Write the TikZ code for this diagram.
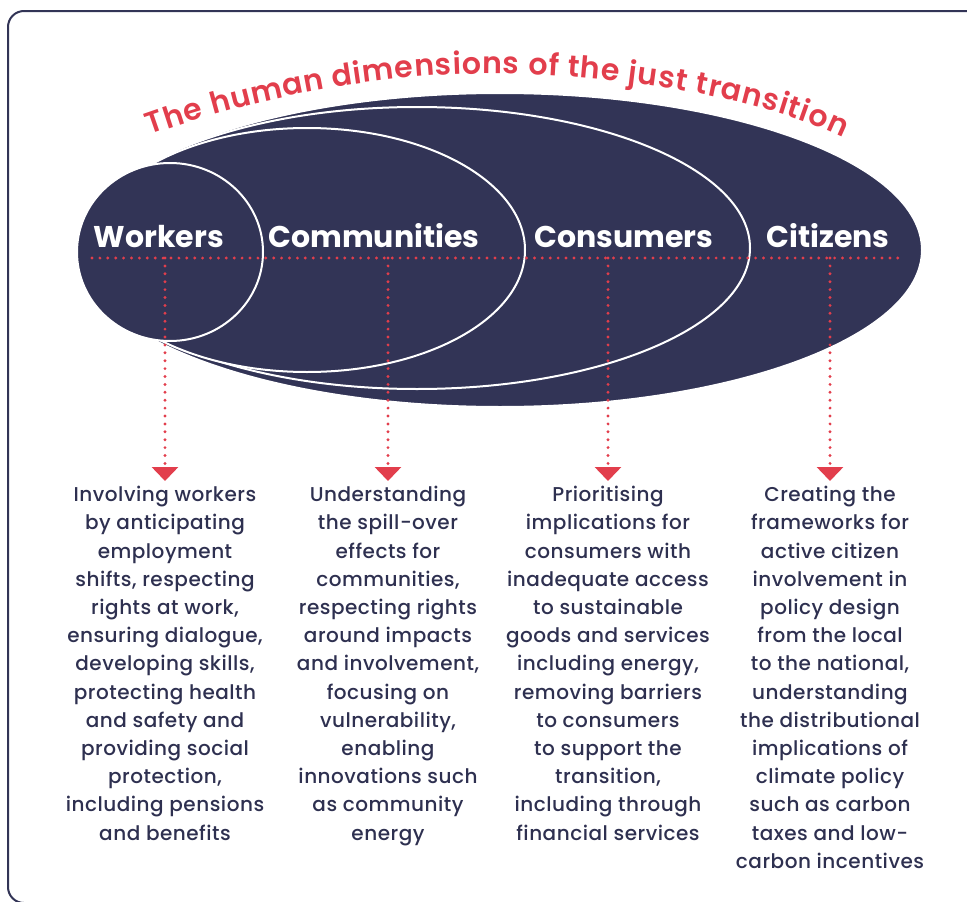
\documentclass[tikz,border=0pt]{standalone}
\usepackage{fontspec}
\setmainfont{Poppins}
\newfontfamily\bodyfont[LetterSpace=2.5,UprightFont=* Medium]{Poppins}
\newfontfamily\titlefont[UprightFont=* SemiBold]{Poppins}
\usetikzlibrary{arrows.meta,decorations.text}

\definecolor{jtnavy}{RGB}{50,52,86}
\definecolor{jtink}{RGB}{46,48,80}
\definecolor{jtred}{RGB}{226,62,76}

\tikzset{
  ring/.style={fill=jtnavy, draw=white, line width=2pt},
  ringlabel/.style={text=white, font=\fontsize{30}{36}\selectfont\bfseries, anchor=base, inner sep=0pt},
  dotline/.style={jtred, line width=3.2pt, line cap=round, dash pattern=on 0pt off 7.9pt},
  bodytext/.style={text=jtink, font=\bodyfont\fontsize{20}{28.2}\selectfont, align=center, anchor=north, inner sep=0pt},
}

\begin{document}
\begin{tikzpicture}[x=1pt,y=-1pt]
    \useasboundingbox (0,0) rectangle (967,902);
    \clip (0,0) rectangle (967,902);
    % frame
    \draw[jtnavy, line width=2pt, rounded corners=16pt] (8,11) rectangle (990,903);

    % nested ellipses, largest first
    \draw[ring] (500,250) ellipse [x radius=422, y radius=157];
    \draw[ring] (417,248) ellipse [x radius=333, y radius=141];
    \draw[ring] (307,250) ellipse [x radius=218, y radius=122];
    \draw[ring] (170,252) ellipse [x radius=93, y radius=89];

    % title along the top
    \path[decorate, decoration={text along path, text align={fit to path}, text color=jtred,
        text={|\titlefont\fontsize{30}{33}\selectfont|The human dimensions of the just transition}}]
        (150,135) .. controls (265,94) and (400,71) .. (505,74)
        .. controls (635,77) and (762,99) .. (843,138);

    \node[ringlabel] (lblWorkers) at (159,247) {Workers};
    \node[ringlabel] (lblCommunities) at (374,247) {Communities};
    \node[ringlabel] (lblConsumers) at (624,247) {Consumers};
    \node[ringlabel] (lblCitizens) at (828,247) {Citizens};

    % dotted rail
    \coordinate (railL) at (92,258);
    \coordinate (railR) at (903,258);
    \coordinate (dWorkers) at (165,258);
    \coordinate (dCommunities) at (388,258);
    \coordinate (dConsumers) at (608,258);
    \coordinate (dCitizens) at (830,258);
    \draw[dotline] (railL) -- (railR);

    \node[bodytext] (txtWorkers) at (165,486) {Involving workers\\by anticipating\\employment\\shifts, respecting\\rights at work,\\ensuring dialogue,\\developing skills,\\protecting health\\and safety and\\providing social\\protection,\\including pensions\\and benefits};
    \node[bodytext] (txtCommunities) at (388,486) {Understanding\\the spill-over\\effects for\\communities,\\respecting rights\\around impacts\\and involvement,\\focusing on\\vulnerability,\\enabling\\innovations such\\as community\\energy};
    \node[bodytext] (txtConsumers) at (608,486) {Prioritising\\implications for\\consumers with\\inadequate access\\to sustainable\\goods and services\\including energy,\\removing barriers\\to consumers\\to support the\\transition,\\including through\\financial services};
    \node[bodytext] (txtCitizens) at (830,486) {Creating the\\frameworks for\\active citizen\\involvement in\\policy design\\from the local\\to the national,\\understanding\\the distributional\\implications of\\climate policy\\such as carbon\\taxes and low-\\carbon incentives};

    \draw[dotline, -{Triangle[width=26pt,length=14pt]}, shorten >=5pt] (dWorkers) -- (txtWorkers.north);
    \draw[dotline, -{Triangle[width=26pt,length=14pt]}, shorten >=5pt] (dCommunities) -- (txtCommunities.north);
    \draw[dotline, -{Triangle[width=26pt,length=14pt]}, shorten >=5pt] (dConsumers) -- (txtConsumers.north);
    \draw[dotline, -{Triangle[width=26pt,length=14pt]}, shorten >=5pt] (dCitizens) -- (txtCitizens.north);
\end{tikzpicture}
\end{document}
